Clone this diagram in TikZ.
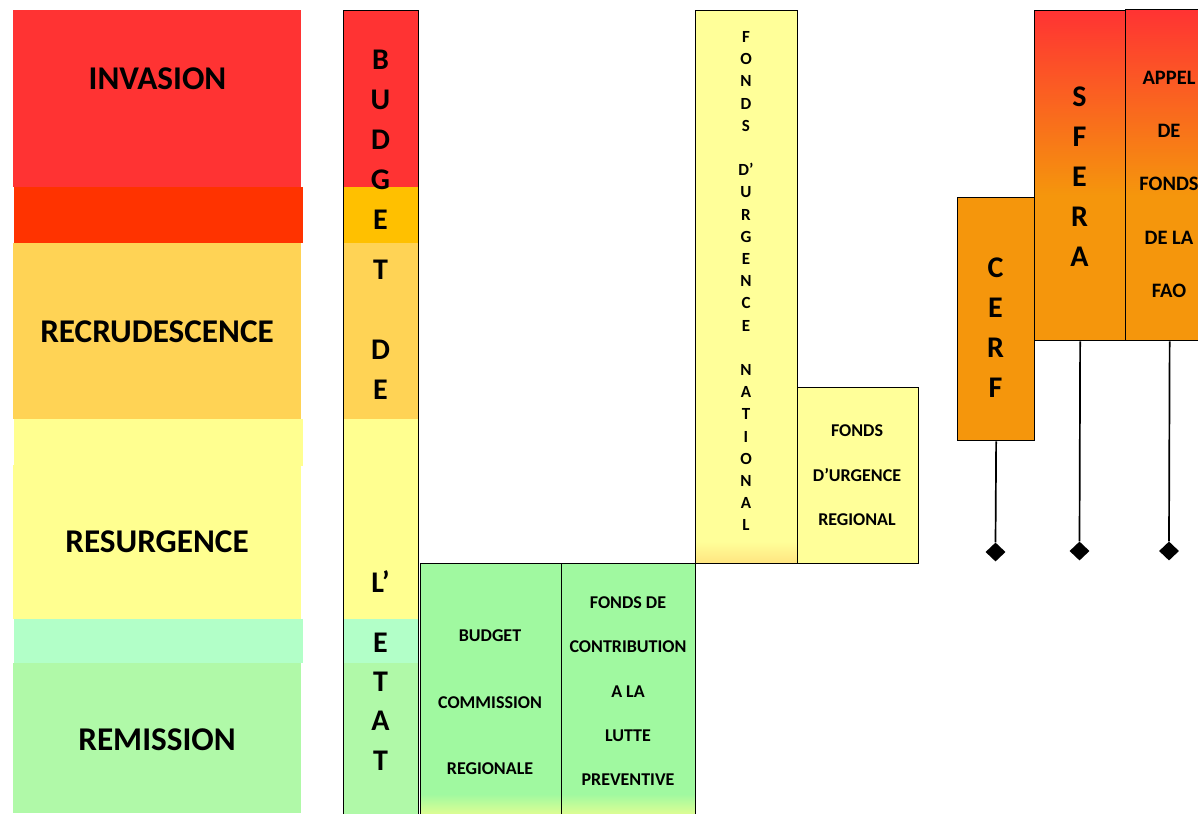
\documentclass[tikz,border=0pt]{standalone}
\usepackage{fontspec}
\setmainfont{Carlito}
\usetikzlibrary{shapes.geometric}
\definecolor{redc}{HTML}{FF3333}
\definecolor{redo}{HTML}{FF3300}
\definecolor{amber}{HTML}{FFC000}
\definecolor{sand}{HTML}{FFD355}
\definecolor{lyel}{HTML}{FFFF90}
\definecolor{fyel}{HTML}{FFFF99}
\definecolor{mint}{HTML}{B2FFC8}
\definecolor{lgrn}{HTML}{B0F9A8}
\definecolor{bgrn}{HTML}{A0F9A0}
\definecolor{orng}{HTML}{F5960C}
\definecolor{ygrn}{HTML}{EEFF90}
\definecolor{gold}{HTML}{FFE480}
\pgfdeclareverticalshading{redtoorange}{100bp}{color(0bp)=(orng); color(25bp)=(orng); color(47bp)=(orng); color(75bp)=(redc); color(100bp)=(redc)}
\pgfdeclareverticalshading{greenfoot}{100bp}{color(0bp)=(ygrn); color(25bp)=(ygrn); color(30bp)=(bgrn); color(75bp)=(bgrn); color(100bp)=(bgrn)}
\pgfdeclareverticalshading{yellowfoot}{100bp}{color(0bp)=(gold); color(25bp)=(gold); color(27bp)=(fyel); color(75bp)=(fyel); color(100bp)=(fyel)}
\tikzset{
  box/.style={draw=black, line width=1.3pt, inner sep=0pt, anchor=north west},
  biglabel/.style={font=\bfseries\fontsize{33.2}{33}\selectfont, text height=21.4pt, text depth=0pt, inner sep=0pt},
  vletter/.style={font=\bfseries\fontsize{30}{30}\selectfont, text height=19.3pt, text depth=0pt, inner sep=0pt},
  midlabel/.style={font=\bfseries\fontsize{18}{18}\selectfont, text height=11.6pt, text depth=0pt, inner sep=0pt},
  faolabel/.style={font=\bfseries\fontsize{20.5}{20}\selectfont, text height=13.2pt, text depth=0pt, inner sep=0pt},
  smallletter/.style={font=\bfseries\fontsize{17}{17}\selectfont, text height=10.9pt, text depth=0pt, inner sep=0pt},
  wire/.style={line width=1.7pt},
  tip/.style={diamond, fill=black, inner sep=0pt, minimum width=20pt, minimum height=19pt},
}
\begin{document}
\begin{tikzpicture}[x=1pt,y=-1pt]
\useasboundingbox (0,0) rectangle (1198,813);
\clip (0,0) rectangle (1198,813);
% left phase panels
\fill[redc] (13,10) rectangle (301,187);
\fill[redo] (14,187) rectangle (303,243);
\fill[sand] (13,243) rectangle (301,419);
\fill[lyel] (14,419) rectangle (303,466);
\fill[lyel] (13,465) rectangle (301,619);
\fill[mint] (14,619) rectangle (303,663);
\fill[lgrn] (13,663) rectangle (301,813);
\node[biglabel] (inv) at (157.5,79) {INVASION};
\node[biglabel] (rec) at (157,332) {RECRUDESCENCE};
\node[biglabel] (res) at (157,542) {RESURGENCE};
\node[biglabel] (rem) at (157,740) {REMISSION};
% budget de l'etat column
\fill[redc] (343,10) rectangle (418,187);
\fill[amber] (343,187) rectangle (418,243);
\fill[sand] (343,243) rectangle (418,419);
\fill[lyel] (343,419) rectangle (418,619);
\fill[mint] (343,619) rectangle (418,663);
\fill[lgrn] (343,663) rectangle (418,820);
\node[box, minimum width=75pt, minimum height=812pt] (budget) at (343,10) {};
\foreach \ch/\yy [count=\i] in {B/60,U/100,D/140,G/180,E/220,T/270,D/350,E/390,L’/583,E/643,T/682,A/721,T/761}
  \node[vletter] (bl\i) at (380.5,\yy) {\ch};
% green boxes
\node[box, shading=greenfoot, shade, minimum width=141pt, minimum height=256pt] (bcr) at (420,563) {};
\node[box, shading=greenfoot, shade, minimum width=134pt, minimum height=256pt] (fclp) at (561,563) {};
\node[midlabel] (bcr1) at (490,636) {BUDGET};
\node[midlabel] (bcr2) at (490,703) {COMMISSION};
\node[midlabel] (bcr3) at (490,769) {REGIONALE};
\node[midlabel] (fc1) at (628,603) {FONDS DE};
\node[midlabel] (fc2) at (628,647) {CONTRIBUTION};
\node[midlabel] (fc3) at (628,692) {A LA};
\node[midlabel] (fc4) at (628,736) {LUTTE};
\node[midlabel] (fc5) at (628,780) {PREVENTIVE};
% fonds d'urgence national / regional
\node[box, shading=yellowfoot, shade, minimum width=102pt, minimum height=553pt] (fun) at (695,10) {};
\foreach \ch [count=\i from 0] in {F,O,N,D,S,{},D’,U,R,G,E,N,C,E,{},N,A,T,I,O,N,A,L}
  \node[smallletter] (fn\i) at (746,{37+22.2*\i}) {\ch};
\node[box, fill=fyel, minimum width=121pt, minimum height=176pt] (fur) at (797,387) {};
\node[midlabel] (fr1) at (857,431) {FONDS};
\node[midlabel] (fr2) at (857,476) {D’URGENCE};
\node[midlabel] (fr3) at (857,520) {REGIONAL};
% international funds
\node[box, fill=orng, minimum width=77pt, minimum height=243pt] (cerf) at (957,197) {};
\node[box, shading=redtoorange, shade, minimum width=91pt, minimum height=330pt] (sfera) at (1034,10) {};
\node[box, shading=redtoorange, shade, minimum width=88pt, minimum height=331pt] (appel) at (1125,9) {};
\foreach \ch/\yy [count=\i] in {C/268,E/308,R/348,F/388}
  \node[vletter] (cl\i) at (995.5,\yy) {\ch};
\foreach \ch/\yy [count=\i] in {S/97,F/137,E/177,R/217,A/257}
  \node[vletter] (sl\i) at (1079.5,\yy) {\ch};
\node[faolabel] (ap1) at (1169,78) {APPEL};
\node[faolabel] (ap2) at (1169,131) {DE};
\node[faolabel] (ap3) at (1169,184) {FONDS};
\node[faolabel] (ap4) at (1169,238) {DE LA};
\node[faolabel] (ap5) at (1169,291) {FAO};
\node[tip] (d1) at (995.5,552) {};
\node[tip] (d2) at (1079.5,551) {};
\node[tip] (d3) at (1169,551) {};
\draw[wire] (cerf.south) -- (d1.north);
\draw[wire] (sfera.south) -- (d2.north);
\draw[wire] (appel.south) -- (d3.north);
\end{tikzpicture}
\end{document}
